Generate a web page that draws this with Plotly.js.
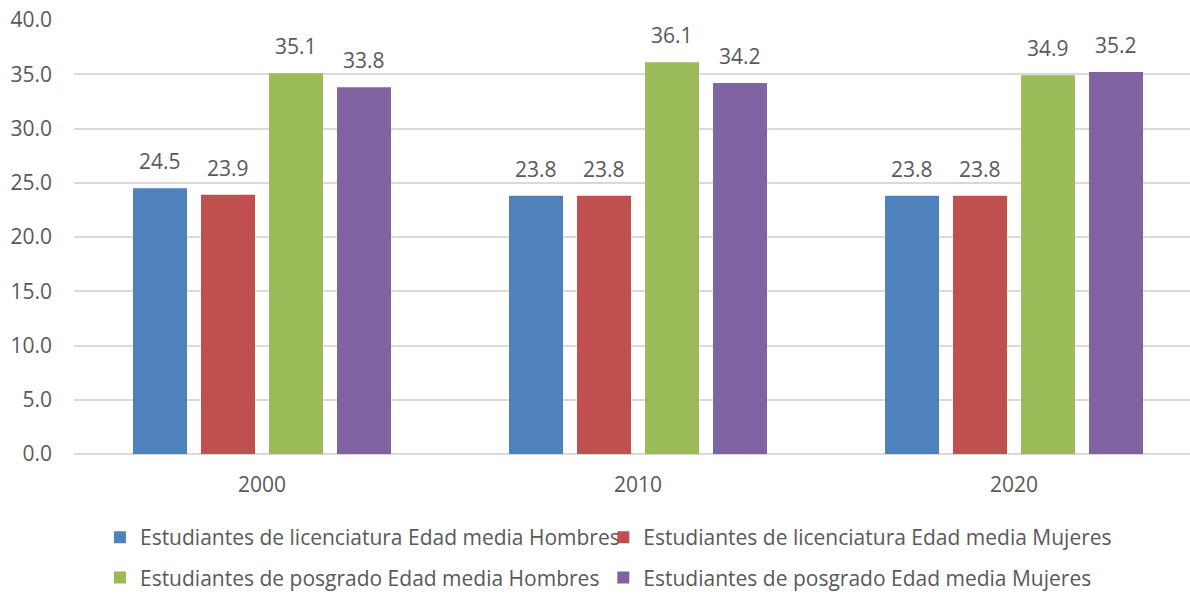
<!DOCTYPE html>
<html>
<head>
<meta charset="utf-8">
<script src="https://cdn.plot.ly/plotly-3.0.1.min.js"></script>
<style>
  html, body { margin: 0; padding: 0; background: #fff; }
  #myDiv { width: 1190px; height: 594px; }
</style>
</head>
<body>
<div id="myDiv"></div>
<script>
    var years = ['2000', '2010', '2020'];

    var seriesNames = [
        'Estudiantes de licenciatura Edad media Hombres',
        'Estudiantes de licenciatura Edad media Mujeres',
        'Estudiantes de posgrado Edad media Hombres',
        'Estudiantes de posgrado Edad media Mujeres'
    ];

    var licHombres = [24.5, 23.8, 23.8];
    var licMujeres = [23.9, 23.8, 23.8];
    var posHombres = [35.1, 36.1, 34.9];
    var posMujeres = [33.8, 34.2, 35.2];

    var series = [licHombres, licMujeres, posHombres, posMujeres];
    var colors = ['#4f81bd', '#c0504d', '#9bbb59', '#8064a2'];
    var legends = ['legend', 'legend2', 'legend3', 'legend4'];

    var textColor = '#595959';
    var font = 'Open Sans, sans-serif';

    var data = series.map(function(vals, i) {
        return {
            type: 'bar',
            x: years,
            y: vals,
            name: seriesNames[i],
            legend: legends[i],
            marker: {color: colors[i]},
            hoverinfo: 'skip'
        };
    });

    // value labels sit a bit higher above the bars than plotly's own bar text,
    // so they go in as annotations; slot = one bar + its gap inside a group (px)
    // (x is the category index: '2000' would be read as index 2000)
    var slot = 68;
    var annotations = [];
    series.forEach(function(vals, i) {
        vals.forEach(function(v, j) {
            annotations.push({
                x: j,
                y: v,
                xref: 'x',
                yref: 'y',
                text: v.toFixed(1),
                showarrow: false,
                xshift: (i - 1.5) * slot,
                yanchor: 'bottom',
                yshift: 11,
                font: {family: font, size: 21, color: textColor}
            });
        });
    });

    // one legend per entry so the two rows line up like the original
    function legendBox(x, y) {
        return {
            orientation: 'h',
            xref: 'container',
            yref: 'container',
            x: x,
            xanchor: 'left',
            y: y,
            yanchor: 'middle',
            font: {family: font, size: 21, color: textColor},
            bgcolor: 'rgba(0,0,0,0)'
        };
    }

    var layout = {
        width: 1190,
        height: 594,
        margin: {l: 74, r: 0, t: 20, b: 140},
        paper_bgcolor: '#ffffff',
        plot_bgcolor: '#ffffff',
        font: {family: font, size: 21, color: textColor},
        barmode: 'group',
        bargap: 0.2766,
        bargroupgap: 0.206,
        showlegend: true,
        xaxis: {
            type: 'category',
            range: [-0.5, 2.468],
            showgrid: false,
            zeroline: false,
            showline: false,
            ticks: '',
            ticklabelstandoff: 16,
            tickfont: {family: font, size: 21, color: textColor}
        },
        yaxis: {
            range: [0, 40],
            dtick: 5,
            tickformat: '.1f',
            showgrid: true,
            gridcolor: '#d9d9d9',
            gridwidth: 2,
            zeroline: true,
            zerolinecolor: '#d9d9d9',
            zerolinewidth: 2,
            showline: false,
            ticks: '',
            ticklabelstandoff: 21,
            tickfont: {family: font, size: 21, color: textColor}
        },
        annotations: annotations,
        legend: legendBox(0.084, 0.095),
        legend2: legendBox(0.507, 0.095),
        legend3: legendBox(0.084, 0.027),
        legend4: legendBox(0.507, 0.027)
    };

    Plotly.newPlot('myDiv', data, layout, {displayModeBar: false, staticPlot: true});
</script>
</body>
</html>
